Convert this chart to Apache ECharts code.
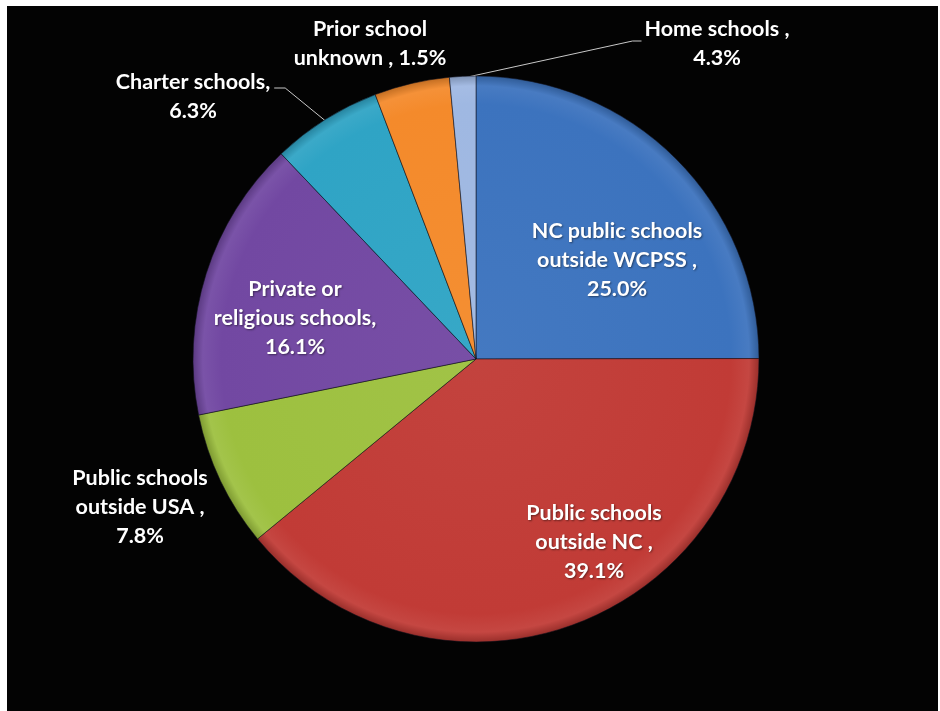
<!DOCTYPE html>
<html><head><meta charset="utf-8">
<script src="https://cdn.jsdelivr.net/npm/echarts@6/dist/echarts.min.js"></script>
<style>
html,body{margin:0;padding:0;background:#fff;width:940px;height:711px;overflow:hidden}
#chart{position:absolute;left:7px;top:6px;width:931px;height:705px;background:#030303}
</style></head><body><div id="chart"></div>
<script>
// ---- data ----
const categories = ["NC public schools outside WCPSS", "Public schools outside NC", "Public schools outside USA", "Private or religious schools", "Charter schools", "Home schools", "Prior school unknown"];
const values = [25.0, 39.1, 7.8, 16.1, 6.3, 4.3, 1.5];
const labelTemplates = ["NC public schools\noutside WCPSS ,\n{v}", "Public schools\noutside NC ,\n{v}", "Public schools\noutside USA ,\n{v}", "Private or\nreligious schools,\n{v}", "Charter schools,\n{v}", "Home schools ,\n{v}", "Prior school\nunknown , {v}"];
const colors = ["#3C73BE", "#C13B36", "#9DC03F", "#7248A2", "#2FA4C5", "#F48A2B", "#9FB8E2"];

// ---- layout / style ----
const CX = 469, CY = 353, R = 283;
const labelAnchors = [[610, 254], [587, 536], [133, 501], [288, 312], [186, 91], [710, 38], [363, 38]];
const leaders = { 4: { side: 'right', dy: -9, bend: 11, frac: 0.5 }, 5: { side: 'left', dy: -3, bend: 9, frac: 1.07 } };

function shade(hex, f) {
  const n = parseInt(hex.slice(1), 16);
  let r = n >> 16, g = (n >> 8) & 255, b = n & 255;
  const t = f < 0 ? 0 : 255, p = Math.abs(f);
  r = Math.round((t - r) * p + r); g = Math.round((t - g) * p + g); b = Math.round((t - b) * p + b);
  return 'rgb(' + r + ',' + g + ',' + b + ')';
}
const total = values.reduce((a, b) => a + b, 0);
const cum = []; values.reduce((a, v, i) => { cum[i] = a; return a + v; }, 0);
function polar(i, frac, rr) {
  const pct = (cum[i] + values[i] * frac) / total;
  const ang = pct * Math.PI * 2;
  return [CX + rr * Math.sin(ang), CY - rr * Math.cos(ang)];
}

const chart = echarts.init(document.getElementById('chart'));
const data = categories.map((name, i) => ({
  name, value: values[i],
  itemStyle: {
    color: new echarts.graphic.RadialGradient(CX, CY, R, [
      { offset: 0, color: shade(colors[i], 0.04) },
      { offset: 0.9, color: colors[i] },
      { offset: 0.965, color: shade(colors[i], 0.06) },
      { offset: 1, color: shade(colors[i], -0.2) }
    ], true)
  },
  label: { position: leaders[i] ? 'outside' : 'inside' },
  labelLine: { show: !!leaders[i] }
}));

chart.setOption({
  backgroundColor: '#030303',
  animation: false,
  series: [{
    type: 'pie',
    center: [CX, CY],
    radius: [0, R],
    startAngle: 90,
    clockwise: true,
    avoidLabelOverlap: false,
    data,
    itemStyle: { borderColor: 'rgba(15,15,25,0.55)', borderWidth: 1 },
    label: {
      show: true,
      color: '#ffffff',
      fontFamily: 'Lato, "Open Sans", sans-serif',
      fontWeight: 'bold',
      fontSize: 21.5,
      lineHeight: 29,
      align: 'center',
      textShadowColor: 'rgba(0,0,0,0.45)',
      textShadowBlur: 2,
      textShadowOffsetX: 1,
      textShadowOffsetY: 1,
      formatter: p => labelTemplates[p.dataIndex].replace('{v}', p.value.toFixed(1) + '%')
    },
    labelLine: { lineStyle: { color: '#c8c8c8', width: 1 }, length: 10, length2: 10 },
    labelLayout: function (p) {
      const i = p.dataIndex, a = labelAnchors[i];
      const res = { x: a[0], y: a[1], align: 'center', verticalAlign: 'middle' };
      const L = leaders[i];
      if (L) {
        const w = p.labelRect.width;
        const sx = L.side === 'right' ? a[0] + w / 2 + 4 : a[0] - w / 2 - 3;
        const sy = a[1] + L.dy;
        const bx = L.side === 'right' ? sx + L.bend : sx - L.bend;
        const e = polar(i, L.frac, R - 3);
        res.labelLinePoints = [e, [bx, sy], [sx, sy]];
      }
      return res;
    }
  }]
});
</script></body></html>
